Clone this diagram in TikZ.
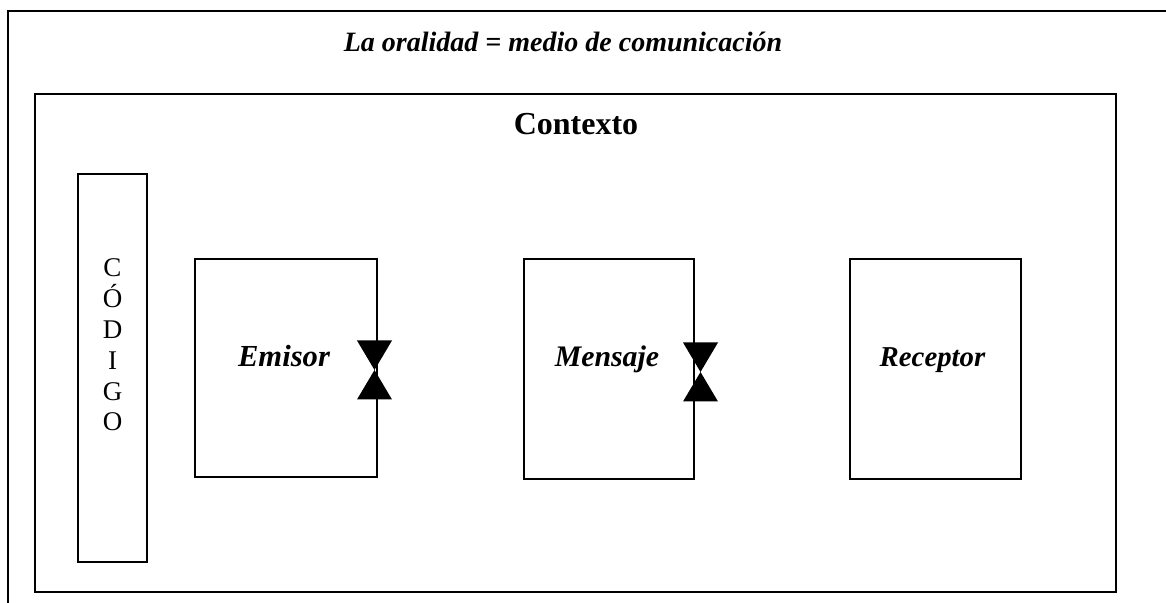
\documentclass[tikz,border=0pt]{standalone}
\usepackage{fontspec}
\setmainfont{Liberation Serif}

\begin{document}
\begin{tikzpicture}[x=0.5pt,y=-0.5pt,line join=miter,
    caja/.style={draw,line width=1pt,inner sep=0pt},
    rotulo/.style={anchor=base,font=\fontsize{#1}{17}\selectfont\bfseries\itshape},
    rotulo/.default=14,
    reloj/.pic={\fill (-8.75pt,-14.75pt) -- (8.75pt,-14.75pt) -- (0,0) -- (8.75pt,14.75pt) -- (-8.75pt,14.75pt) -- (0,0) -- cycle;}]
    \useasboundingbox (0,0) rectangle (1166,603);
    \clip (0,0) rectangle (1166,603);

    % marco exterior
    \draw[line width=0.75pt] (8,11) rectangle (1190,630);
    \node[rotulo] (titulo) at (563,52) {La oralidad = medio de comunicación};

    % contexto
    \node[caja,minimum width=540.5pt,minimum height=249pt] (contexto) at (575.5,343) {};
    \node[anchor=base,font=\fontsize{16}{19}\selectfont\bfseries] (contextoTxt) at (576,135) {Contexto};

    % codigo
    \node[caja,minimum width=34.5pt,minimum height=194pt] (codigo) at (112.5,368) {};
    \node[align=center,font=\fontsize{13.5}{15.4}\selectfont] (codigoTxt) at (112.5,345) {C\\Ó\\D\\I\\G\\O};

    % emisor, mensaje, receptor
    \node[caja,minimum width=91pt,minimum height=109pt] (emisor) at (286,368) {};
    \node[caja,minimum width=85pt,minimum height=110pt] (mensaje) at (609,369) {};
    \node[caja,minimum width=85.5pt,minimum height=110pt] (receptor) at (935.5,369) {};

    \node[rotulo=15.3] (emisorTxt) at (284,367) {Emisor};
    \node[rotulo=14.9] (mensajeTxt) at (607,367) {Mensaje};
    \node[rotulo=14.4] (receptorTxt) at (932.5,367) {Receptor};

    \pic at (374.5,370) {reloj};
    \pic at (700.5,372) {reloj};
\end{tikzpicture}
\end{document}
